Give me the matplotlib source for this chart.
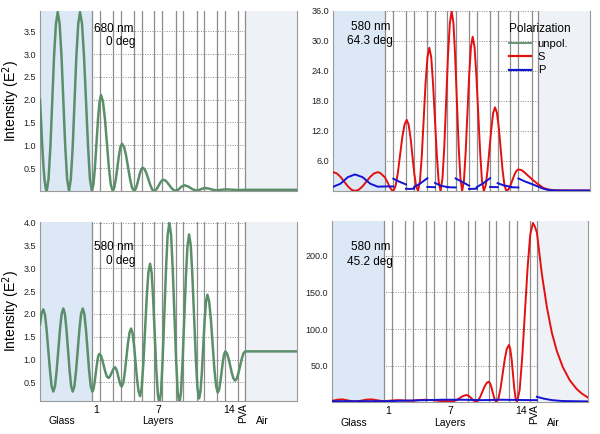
import numpy as np
import matplotlib.pyplot as plt
from matplotlib.lines import Line2D
from matplotlib.transforms import blended_transform_factory

plt.rcParams['font.family'] = ['Liberation Sans', 'DejaVu Sans']

nan = np.nan

# depth axis (a.u.): glass | layers 1..14 + PVA | air
bounds = [51.7, 60.0, 72.7, 80.7, 94.0, 101.7, 114.0, 122.3, 135.7, 143.3,
          156.7, 164.3, 177.0, 185.0, 198.3, 205.0]
x_end = 256.7

# 680 nm, 0 deg (unpolarized)
tl_x = [0, 1.1, 2.2, 3.4, 4.5, 5.6, 6.7, 8.5, 10.4, 14.0, 15.9, 17.7,
        19.6, 21.5, 25.2, 27.1, 29.0, 30.8, 32.7, 36.3, 38.2, 40.0,
        42.0, 44.0, 48.0, 49.9, 51.9, 53.4, 54.9, 58.0, 59.5, 61.0,
        62.9, 64.9, 68.8, 70.7, 72.7, 74.2, 75.8, 78.9, 80.4, 82.0,
        84.0, 86.0, 90.0, 92.0, 94.0, 95.4, 96.9, 99.8, 101.2, 102.7,
        104.6, 106.5, 110.2, 112.1, 114.0, 115.5, 117.1, 120.2, 121.8, 123.3,
        125.4, 127.4, 131.6, 133.6, 135.7, 138.6, 141.4, 144.3, 148.4, 152.6,
        156.7, 159.5, 162.2, 165.0, 169.0, 173.0, 177.0, 180.0, 183.0, 185.7,
        190.0, 198.3, 205.0, 256.7]
tl_y = [2.0, 1.5, 1.0, 0.55, 0.25, 0.07, 0.0, 0.26, 0.98, 2.94, 3.66, 3.92,
        3.66, 2.94, 0.98, 0.26, 0.0, 0.26, 0.98, 2.94, 3.66, 3.92,
        3.66, 2.94, 0.98, 0.26, 0.0, 0.14, 0.52, 1.58, 1.96, 2.1,
        1.96, 1.58, 0.52, 0.14, 0.0, 0.07, 0.26, 0.78, 0.965, 1.035,
        0.965, 0.78, 0.26, 0.07, 0.0, 0.034, 0.13, 0.38, 0.476, 0.51,
        0.476, 0.38, 0.13, 0.034, 0.0, 0.016, 0.06, 0.18, 0.228, 0.245,
        0.228, 0.18, 0.06, 0.02, 0.005, 0.035, 0.095, 0.125, 0.095, 0.035,
        0.01, 0.025, 0.05, 0.065, 0.05, 0.025, 0.015, 0.022, 0.03, 0.035,
        0.03, 0.02, 0.025, 0.025]

# 580 nm, 0 deg (unpolarized)
bl_x = [0, 1.6, 3.3, 5.0, 6.6, 10.0, 11.6, 13.3, 15.0, 16.6, 20.0, 21.6, 23.3,
        24.9, 26.4, 29.6, 31.1, 32.7, 34.4, 36.0, 39.4, 41.0, 42.7,
        44.3, 45.9, 49.1, 50.7, 52.3, 53.5, 54.6, 57.0, 58.1, 59.3,
        60.8, 62.3, 65.3, 66.8, 68.3, 69.4, 70.5, 72.8, 73.9, 75.0,
        76.1, 77.2, 79.5, 80.6, 81.7, 83.3, 84.8, 87.9, 89.5, 91.0,
        92.5, 94.0, 97.0, 98.5, 100.0, 101.7, 103.3, 106.7, 108.3, 110.0,
        111.6, 113.1, 116.2, 117.8, 119.3, 121.0, 122.6, 126.0, 127.6, 129.3,
        131.0, 132.6, 136.0, 137.6, 139.3, 140.9, 142.5, 145.8, 147.4, 149.0,
        150.7, 152.3, 155.7, 157.3, 159.0, 160.4, 161.8, 164.5, 165.9, 167.3,
        169.0, 170.8, 174.2, 176.0, 177.7, 179.0, 180.2, 182.8, 184.0, 185.3,
        186.9, 188.5, 191.8, 193.4, 195.0, 196.7, 198.3, 201.7, 203.3, 205.0,
        256.7]
bl_y = [1.77, 2.02, 2.1, 1.98, 1.65, 0.75, 0.42, 0.3, 0.42, 0.755, 1.665, 2.0, 2.12,
        2.0, 1.665, 0.755, 0.42, 0.3, 0.42, 0.755, 1.665, 2.0, 2.12,
        2.0, 1.665, 0.755, 0.42, 0.3, 0.355, 0.51, 0.92, 1.07, 1.125,
        1.09, 0.99, 0.73, 0.635, 0.6, 0.615, 0.66, 0.77, 0.815, 0.83,
        0.80, 0.725, 0.515, 0.44, 0.41, 0.495, 0.73, 1.36, 1.595, 1.68,
        1.58, 1.31, 0.57, 0.30, 0.2, 0.39, 0.925, 2.375, 2.905, 3.1,
        2.895, 2.33, 0.8, 0.235, 0.03, 0.295, 1.02, 3.01, 3.735, 4.0,
        3.735, 3.01, 1.02, 0.295, 0.03, 0.28, 0.96, 2.81, 3.49, 3.74,
        3.50, 2.84, 1.05, 0.39, 0.15, 0.30, 0.72, 1.85, 2.27, 2.42,
        2.28, 1.885, 0.815, 0.42, 0.28, 0.34, 0.505, 0.955, 1.12, 1.18,
        1.135, 1.02, 0.70, 0.585, 0.54, 0.585, 0.70, 1.02, 1.135, 1.18,
        1.18]

# 580 nm, 64.3 deg
tr_s_x = [0, 3.6, 7.2, 14.5, 18.1, 21.7, 25.5, 29.3, 36.9, 40.7, 44.5,
          46.3, 48.0, 50.0, 51.7, 53.1, 54.5, 55.9, 57.3, 58.7, 60.0,
          62.2, 64.5, 68.9, 71.2, 73.4, 75.3, 77.2, 80.9, 82.8, 84.7,
          86.6, 88.5, 92.2, 94.1, 96.0, 97.9, 99.7, 103.5, 105.3, 107.2,
          109.1, 111.0, 114.6, 116.5, 118.3, 120.1, 121.8, 125.3, 127.1, 128.8,
          130.6, 132.3, 135.8, 137.6, 139.3, 141.2, 143.0, 146.8, 148.6, 150.5,
          152.4, 154.2, 158.0, 159.8, 161.7, 163.6, 165.5, 169.2, 171.1, 173.0,
          175.0, 177.0, 181.0, 183.0, 185.0, 187.5, 190.0, 195.0, 200.0, 205.0,
          210.0, 215.0, 220.0, 230.0, 256.7]
tr_s_y = [3.75, 3.5, 2.81, 0.94, 0.25, 0.0, 0.25, 0.94, 2.81, 3.5, 3.75,
          3.65, 3.4, 3.0, 2.7, 2.15, 1.6, 1.0, 0.5, 0.15, 0.0,
          0.95, 3.55, 10.65, 13.25, 14.2, 13.25, 10.65, 3.55, 0.95, 0.0,
          1.92, 7.15, 21.45, 26.68, 28.6, 26.68, 21.45, 7.15, 1.92, 0.0,
          2.4, 8.97, 26.9, 33.5, 35.9, 33.5, 26.9, 8.97, 2.4, 0.0,
          2.06, 7.7, 23.1, 28.74, 30.8, 28.74, 23.1, 7.7, 2.06, 0.0,
          1.12, 4.18, 12.5, 15.58, 16.7, 15.58, 12.5, 4.18, 1.12, 0.0,
          0.29, 1.08, 3.2, 4.0, 4.3, 4.2, 3.9, 3.0, 2.1, 1.3,
          0.6, 0.3, 0.15, 0.1, 0.1]
tr_p_x = [0, 7.2, 14.5, 21.7, 29.3, 36.9, 44.5, 51.7, 60.0, nan,
          60.0, 66.0, 72.7, nan, 72.7, 76.7, 80.7, nan, 80.7, 87.0, 94.0, nan,
          94.0, 101.7, nan, 101.7, 108.0, 114.0, nan, 114.0, 122.3, nan,
          122.3, 129.0, 135.7, nan, 135.7, 143.3, nan, 143.3, 150.0, 156.7, nan,
          156.7, 164.3, nan, 164.3, 170.5, 177.0, nan, 177.0, 185.0, nan,
          185.0, 191.5, 198.3, 205.0, 210.0, 215.0, 222.0, 256.7]
tr_p_y = [0.85, 1.45, 2.75, 3.3, 2.75, 1.45, 0.85, 0.9, 0.9, nan,
          2.45, 1.85, 1.3, nan, 0.45, 0.4, 0.45, nan, 0.75, 1.5, 2.55, nan,
          0.8, 0.75, nan, 1.6, 1.0, 0.8, nan, 0.75, 0.7, nan,
          2.5, 1.8, 1.05, nan, 0.4, 0.45, nan, 0.75, 1.55, 2.55, nan,
          0.8, 0.75, nan, 1.55, 1.1, 0.85, nan, 0.75, 0.7, nan,
          2.5, 1.9, 1.4, 0.85, 0.45, 0.2, 0.1, 0.08]

# 580 nm, 45.2 deg
br_s_x = [0, 5, 10, 16, 22, 28, 34, 39, 45, 51, 55, 60, 66, 72, 80, 86, 93, 100,
          107, 114, 120, 122, 125, 128, 131, 134.4, 136.5, 139, 141.5, 144,
          146.1, 148.2, 152.5, 154.6, 156.7, 158.0, 159.3, 161.9, 163.2, 164.5,
          166.6, 168.7, 172.8, 174.9, 177.0, 178.3, 179.7, 182.3, 183.7, 185.0,
          187.7, 190.3, 195.7, 198.3, 201.0, 203.0, 205.0, 210.0, 215.0, 220.0,
          225.0, 231.0, 238.0, 245.0, 250.0, 256.7]
br_s_y = [2.0, 3.5, 4.0, 2.5, 1.0, 2.0, 3.6, 4.0, 2.8, 1.5, 2.0, 2.5, 3.0, 2.5,
          2.0, 3.0, 3.5, 3.0, 2.0, 1.5, 1.5, 1.8, 3.5, 6.0, 8.7, 10.0, 9.0, 6.0, 2.5, 0.5,
          2.4, 7.4, 21.3, 26.3, 28.2, 26.3, 21.3, 7.4, 2.4, 0.5,
          5.7, 19.9, 58.8, 73.1, 78.3, 73.1, 58.7, 19.6, 5.2, 0.0,
          16.4, 61.3, 183.8, 228.6, 245.0, 240.0, 232.0, 175.0, 130.0, 95.0,
          70.0, 48.0, 30.0, 18.0, 12.0, 6.0]
br_p_x = [0, 51, 80, 110, 130, 150, 170, 200, 205, nan, 205, 212, 220, 230, 256.7]
br_p_y = [1.5, 1.5, 2.5, 3.5, 3.5, 3.0, 3.5, 3.0, 3.0, nan, 7.5, 5.0, 3.0, 1.8, 1.2]

green = '#5a8f6a'
red = '#e41010'
blue = '#1414d2'
glass_col = '#dce8f6'
air_col = '#eef2f7'


def setup(ax, ylim, yticks, fmt):
    ax.axvspan(0, bounds[0], color=glass_col, lw=0, zorder=1)
    ax.axvspan(bounds[-1], x_end, color=air_col, lw=0, zorder=1)
    for b in bounds:
        ax.axvline(b, color='#8c8c8c', lw=0.9, zorder=1.5)
    ax.set_xlim(0, x_end)
    ax.set_ylim(*ylim)
    ax.set_yticks(yticks)
    ax.set_yticklabels([fmt % t for t in yticks])
    ax.set_xticks([])
    ax.set_axisbelow(True)
    ax.grid(axis='y', ls=(0, (1, 1.5)), color='#8c8c8c', lw=0.7)
    ax.tick_params(axis='y', length=0, pad=3, labelsize=6.5, colors='#222222')
    ax.spines['top'].set_visible(False)
    for s in ['left', 'right', 'bottom']:
        ax.spines[s].set_color('#9a9a9a')
        ax.spines[s].set_linewidth(0.8)


def xlabels(ax):
    tr = blended_transform_factory(ax.transData, ax.transAxes)
    for xx, t in [(55.7, '1'), (118.3, '7'), (189.0, '14')]:
        ax.text(xx, -0.05, t, transform=tr, ha='center', va='center', fontsize=7.5)
    ax.text(202.7, -0.012, 'PVA', transform=tr, ha='center', va='top',
            rotation=90, fontsize=7.5)
    for xx, t in [(21.7, 'Glass'), (118.0, 'Layers'), (222.0, 'Air')]:
        ax.text(xx, -0.112, t, transform=tr, ha='center', va='center', fontsize=7.5)


def note(ax, xx, yy, t):
    tr = blended_transform_factory(ax.transData, ax.transAxes)
    ax.text(xx, yy, t, transform=tr, ha='center', va='center', fontsize=8.5)


fig = plt.figure(figsize=(6.0, 4.34), dpi=100)
ax_tl = fig.add_axes([0.0667, 0.560, 0.428, 0.4154])
ax_tr = fig.add_axes([0.5555, 0.560, 0.428, 0.4154])
ax_bl = fig.add_axes([0.0667, 0.0767, 0.428, 0.4124])
ax_br = fig.add_axes([0.5538, 0.0730, 0.427, 0.4184])

setup(ax_tl, (0, 3.95), [0.5, 1.0, 1.5, 2.0, 2.5, 3.0, 3.5], '%.1f')
setup(ax_tr, (0, 36.0), [6, 12, 18, 24, 30, 36], '%.1f')
setup(ax_bl, (0.1, 4.02), [0.5, 1.0, 1.5, 2.0, 2.5, 3.0, 3.5, 4.0], '%.1f')
setup(ax_br, (0, 248), [50, 100, 150, 200], '%.1f')

ax_tl.plot(tl_x, tl_y, color=green, lw=1.8, zorder=3)
ax_bl.plot(bl_x, bl_y, color=green, lw=1.8, zorder=3)
ax_tr.plot(tr_s_x, tr_s_y, color=red, lw=1.4, zorder=3)
ax_tr.plot(tr_p_x, tr_p_y, color=blue, lw=1.4, zorder=3)
ax_br.plot(br_s_x, br_s_y, color=red, lw=1.4, zorder=3)
ax_br.plot(br_p_x, br_p_y, color=blue, lw=1.4, zorder=3)

for ax in (ax_tl, ax_bl):
    ax.set_ylabel('Intensity (E$^2$)', fontsize=10)
    ax.yaxis.set_label_coords(-0.072, 0.5)

note(ax_tl, 73.3, 0.90, '680 nm')
note(ax_tl, 81.0, 0.825, '0 deg')
note(ax_bl, 73.3, 0.86, '580 nm')
note(ax_bl, 80.8, 0.78, '0 deg')
note(ax_tr, 37.2, 0.912, '580 nm')
note(ax_tr, 36.5, 0.834, '64.3 deg')
note(ax_br, 38.2, 0.857, '580 nm')
note(ax_br, 37.5, 0.774, '45.2 deg')

xlabels(ax_bl)
xlabels(ax_br)

handles = [Line2D([], [], color=green, lw=1.3),
           Line2D([], [], color=red, lw=1.6),
           Line2D([], [], color=blue, lw=1.6)]
leg = ax_tr.legend(handles, ['unpol.', 'S', 'P'], title='Polarization',
                   loc='upper right', bbox_to_anchor=(0.945, 0.96), frameon=False,
                   fontsize=8, title_fontsize=8.5, handlelength=2.0,
                   handletextpad=0.6, labelspacing=0.3, borderpad=0,
                   alignment='left')

fig.savefig('out.png', dpi=100)
